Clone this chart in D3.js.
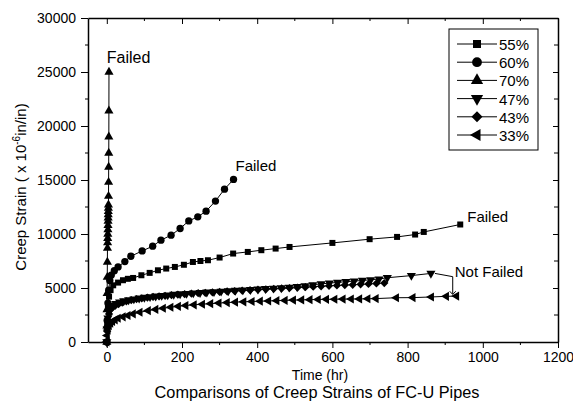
<!DOCTYPE html>
<html>
<head>
<meta charset="utf-8">
<script src="https://cdn.jsdelivr.net/npm/d3@7"></script>
<style>
  body { margin: 0; background: #fff; }
  text { font-family: "Liberation Sans", Arial, sans-serif; fill: #000; }
</style>
</head>
<body>
<svg id="chart" width="573" height="401"></svg>
<script>
// creep strain vs time, one pair of arrays per load level
var t55 = [0, 1, 3, 6, 10, 17, 30, 43, 56, 70, 92, 114, 136, 158, 181, 205, 229, 249, 269, 300, 336, 375, 411, 449, 486, 600, 699, 772, 820, 843, 940]
var v55 = [0, 1800, 3200, 4200, 4800, 5250, 5500, 5720, 5850, 5930, 6180, 6400, 6640, 6800, 6950, 7150, 7410, 7500, 7570, 7820, 8190, 8340, 8500, 8650, 8800, 9175, 9520, 9730, 9950, 10190, 10880]

var t60 = [0, 1, 3, 5, 8, 12, 20, 30, 48, 64, 94, 122, 144, 171, 195, 218, 242, 264, 289, 313, 337]
var v60 = [0, 2000, 3600, 4800, 5700, 6200, 6600, 6950, 7450, 7940, 8430, 8870, 9430, 9890, 10510, 11210, 11590, 12110, 13050, 14150, 15050]

var t70 = [0, 0.3, 0.6, 0.9, 1.2, 1.5, 1.8, 2.1, 2.4, 2.7, 3, 3.2, 3.4, 3.6, 3.8, 4, 4.2, 4.4, 4.6, 4.8, 5, 5.2, 5.4, 5.6, 5.8]
var v70 = [0, 1500, 3000, 4500, 6000, 7400, 8700, 9200, 9600, 10000, 10400, 10800, 11200, 11500, 11800, 12100, 12400, 12700, 13500, 14800, 16200, 17500, 19000, 21400, 25000]

var t47 = [0, 1, 3, 6, 10, 16, 24, 34, 45, 58, 72, 86, 100, 115, 130, 146, 162, 178, 195, 212, 230, 248, 266, 285, 304, 323, 342, 362, 382, 402, 422, 443, 464, 485, 506, 527, 548, 570, 592, 614, 636, 658, 680, 702, 724, 746, 810, 862]
var v47 = [0, 1200, 2200, 2800, 3150, 3400, 3550, 3700, 3800, 3900, 3980, 4060, 4120, 4180, 4240, 4300, 4350, 4400, 4450, 4490, 4530, 4570, 4610, 4650, 4690, 4730, 4770, 4810, 4850, 4890, 4930, 4970, 5010, 5060, 5120, 5200, 5300, 5380, 5450, 5520, 5580, 5640, 5700, 5760, 5830, 5950, 6150, 6350]

var t43 = [0, 1, 3, 6, 10, 15, 22, 31, 41, 52, 65, 79, 93, 108, 123, 139, 155, 172, 189, 207, 225, 243, 262, 281, 300, 320, 340, 360, 381, 402, 423, 444, 465, 486, 507, 528, 549, 570, 591, 612, 633, 654, 675, 696, 717, 738]
var v43 = [0, 1000, 2000, 2600, 3000, 3200, 3350, 3500, 3650, 3770, 3880, 3970, 4040, 4110, 4170, 4230, 4280, 4330, 4380, 4430, 4480, 4520, 4560, 4600, 4640, 4680, 4720, 4760, 4800, 4840, 4880, 4920, 4960, 5000, 5040, 5080, 5120, 5160, 5200, 5240, 5270, 5300, 5340, 5380, 5420, 5460]

var t33 = [0, 1, 3, 6, 10, 15, 22, 30, 43, 56, 70, 88, 110, 130, 150, 170, 190, 210, 232, 254, 276, 298, 320, 342, 364, 386, 408, 430, 452, 474, 496, 518, 540, 562, 584, 606, 628, 650, 672, 694, 716, 770, 814, 863, 903, 930]
var v33 = [0, 600, 1100, 1500, 1750, 1900, 2050, 2200, 2330, 2450, 2600, 2750, 2900, 3020, 3120, 3220, 3300, 3380, 3440, 3500, 3550, 3600, 3650, 3690, 3720, 3750, 3780, 3800, 3830, 3850, 3880, 3900, 3920, 3940, 3950, 3960, 3970, 3980, 3990, 4000, 4020, 4100, 4110, 4170, 4230, 4250]

var seriesNames = ["55%", "60%", "70%", "47%", "43%", "33%"]
var seriesT = [t55, t60, t70, t47, t43, t33]
var seriesV = [v55, v60, v70, v47, v43, v33]
var markers = ["square", "circle", "triUp", "triDown", "diamond", "triLeft"]

var xTicks = [0, 200, 400, 600, 800, 1000, 1200]
var yTicks = [0, 5000, 10000, 15000, 20000, 25000, 30000]

var svg = d3.select("#chart")

var x = d3.scaleLinear().domain([-50, 1200]).range([88, 558])
var y = d3.scaleLinear().domain([0, 30000]).range([342, 18])

var xMinor = d3.range(0, 1201, 100).filter(d => d % 200 != 0)
var yMinor = d3.range(0, 30001, 2500).filter(d => d % 5000 != 0)

// axes: bottom/left with labels, top/right mirrored with inward ticks
var axBottom = svg.append("g").attr("transform", `translate(0,${y(0)})`)
    .call(d3.axisBottom(x).tickValues(xTicks).tickFormat(d3.format("d")).tickSize(6).tickPadding(4).tickSizeOuter(0))
axBottom.append("g").selectAll("line").data(xMinor).enter().append("line")
    .attr("x1", d => x(d)).attr("x2", d => x(d)).attr("y1", 0).attr("y2", 3).attr("stroke", "#000")

var axLeft = svg.append("g").attr("transform", `translate(${x(-50)},0)`)
    .call(d3.axisLeft(y).tickValues(yTicks).tickFormat(d3.format("d")).tickSize(7).tickPadding(5).tickSizeOuter(0))
axLeft.append("g").selectAll("line").data(yMinor).enter().append("line")
    .attr("y1", d => y(d)).attr("y2", d => y(d)).attr("x1", 0).attr("x2", -3).attr("stroke", "#000")

var axTop = svg.append("g").attr("transform", `translate(0,${y(30000)})`)
    .call(d3.axisBottom(x).tickValues(xTicks).tickSize(6).tickFormat("").tickSizeOuter(0))
axTop.append("g").selectAll("line").data(xMinor).enter().append("line")
    .attr("x1", d => x(d)).attr("x2", d => x(d)).attr("y1", 0).attr("y2", 3).attr("stroke", "#000")

var axRight = svg.append("g").attr("transform", `translate(${x(1200)},0)`)
    .call(d3.axisLeft(y).tickValues(yTicks).tickSize(5).tickFormat("").tickSizeOuter(0))
axRight.append("g").selectAll("line").data(yMinor).enter().append("line")
    .attr("y1", d => y(d)).attr("y2", d => y(d)).attr("x1", 0).attr("x2", -4).attr("stroke", "#000")

svg.selectAll(".domain").attr("stroke-width", 1.5)
svg.selectAll(".tick text").style("font-size", "14px").style("font-family", "Liberation Sans, Arial, sans-serif")

function symbolPath(kind, scale) {
  var k = scale || 1
  if (kind == "square") return d3.symbol(d3.symbolSquare, 36 * k)()
  if (kind == "circle") return d3.symbol(d3.symbolCircle, 42 * k)()
  if (kind == "diamond") return d3.symbol(d3.symbolSquare, 34 * k)()
  return d3.symbol(d3.symbolTriangle, 36 * k)()
}
function symbolRotate(kind) {
  if (kind == "diamond") return 45
  if (kind == "triDown") return 180
  if (kind == "triLeft") return -90
  return 0
}

var line = d3.line().x(d => x(d[0])).y(d => y(d[1]))

seriesNames.forEach(function(name, i) {
  var pts = seriesT[i].map((t, j) => [t, seriesV[i][j]])
  var g = svg.append("g").attr("class", "series")
  g.append("path").datum(pts).attr("d", line)
    .attr("fill", "none").attr("stroke", "#000").attr("stroke-width", 1)
  g.selectAll("path.mk").data(pts).enter().append("path")
    .attr("class", "mk")
    .attr("d", symbolPath(markers[i]))
    .attr("transform", d => `translate(${x(d[0])},${y(d[1])}) rotate(${symbolRotate(markers[i])})`)
    .attr("fill", "#000")
})

// annotations
svg.append("text").attr("x", x(0)).attr("y", y(25000) - 9).text("Failed").style("font-size", "16px")
svg.append("text").attr("x", x(337) + 2).attr("y", y(15050) - 8).text("Failed").style("font-size", "15px")
svg.append("text").attr("x", x(940) + 7).attr("y", y(10880) - 2).text("Failed").style("font-size", "15px")
svg.append("text").attr("x", x(920) + 2).attr("y", y(6350) + 4).text("Not Failed").style("font-size", "15px")

svg.append("polyline")
  .attr("points", [[x(862) + 4, y(6350)], [x(920), y(6050)], [x(920), y(4450)]].map(p => p.join(",")).join(" "))
  .attr("fill", "none").attr("stroke", "#000").attr("stroke-width", 1)
svg.append("path")
  .attr("d", `M${x(920) - 3},${y(4700)} L${x(920)},${y(4400)} L${x(920) + 3},${y(4700)}`)
  .attr("fill", "none").attr("stroke", "#000").attr("stroke-width", 1)

// axis titles
svg.append("text").attr("x", 320).attr("y", 380).attr("text-anchor", "middle")
  .style("font-size", "14px").text("Time (hr)")
svg.append("text").attr("x", 317).attr("y", 398).attr("text-anchor", "middle")
  .style("font-size", "16.3px").text("Comparisons of Creep Strains of FC-U Pipes")

var yl = svg.append("text").attr("transform", "translate(26,187) rotate(-90)")
  .attr("text-anchor", "middle").style("font-size", "15px")
yl.append("tspan").text("Creep Strain ( x 10")
yl.append("tspan").attr("dy", -6).style("font-size", "10px").text("-6")
yl.append("tspan").attr("dy", 6).text("in/in)")

// legend
var lg = svg.append("g")
lg.append("rect").attr("x", 449).attr("y", 29).attr("width", 89).attr("height", 121)
  .attr("fill", "#fff").attr("stroke", "#000").attr("stroke-width", 1)
seriesNames.forEach(function(name, i) {
  var ry = 44 + i * 18.2
  lg.append("line").attr("x1", 457).attr("x2", 497).attr("y1", ry).attr("y2", ry)
    .attr("stroke", "#000").attr("stroke-width", 1)
  lg.append("path").attr("d", symbolPath(markers[i], 1.8))
    .attr("transform", `translate(477,${ry}) rotate(${symbolRotate(markers[i])})`)
    .attr("fill", "#000")
  lg.append("text").attr("x", 499).attr("y", ry + 6).style("font-size", "15px").text(name)
})
</script>
</body>
</html>
